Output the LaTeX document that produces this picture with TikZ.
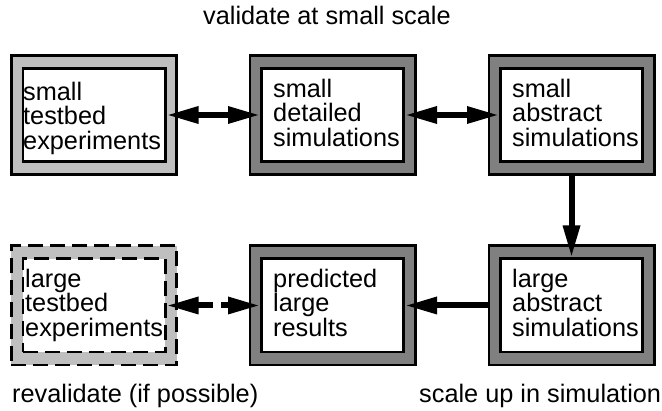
\documentclass[tikz,border=0pt]{standalone}
\usepackage{fontspec}
\setmainfont{Liberation Sans}
\usetikzlibrary{arrows.meta}
\definecolor{lightframe}{gray}{0.75}
\definecolor{darkframe}{gray}{0.5}
\begin{document}
\begin{tikzpicture}[x=1pt,y=-1pt,
  frame/.style={draw=black, line width=2.7pt, minimum width=165.3pt, minimum height=119.3pt, inner sep=0pt},
  inbox/.style={draw=black, fill=white, line width=2.7pt, minimum width=142.3pt, minimum height=93.3pt, inner sep=0pt},
  dashedline/.style={dash pattern=on 15pt off 7pt},
  txt/.style={anchor=north west, inner sep=0pt, align=left, font=\fontsize{25.3pt}{24.5pt}\selectfont},
  lbl/.style={anchor=base west, inner sep=0pt, font=\fontsize{25.3pt}{24.5pt}\selectfont},
  tip/.tip={Triangle[length=32pt,width=16pt]},
  conn/.style={line width=6pt},
]
\useasboundingbox (0,0) rectangle (662,411);
% frames
\node[frame, fill=lightframe] (f1) at (94,115) {};
\node[frame, fill=darkframe] (f2) at (332.5,115) {};
\node[frame, fill=darkframe] (f3) at (571.5,115) {};
\node[frame, fill=lightframe, dashedline] (f4) at (94,305.5) {};
\node[frame, fill=darkframe] (f5) at (332.5,305.5) {};
\node[frame, fill=darkframe] (f6) at (571.5,305.5) {};
% inner boxes
\node[inbox] (i1) at (f1) {};
\node[inbox] (i2) at (f2) {};
\node[inbox] (i3) at (f3) {};
\node[inbox, dashedline] (i4) at (f4) {};
\node[inbox] (i5) at (f5) {};
\node[inbox] (i6) at (f6) {};
% texts
\node[txt] (t1) at (23,81.9) {small\\testbed\\experiments};
\node[txt] (t2) at (273,78.9) {small\\detailed\\simulations};
\node[txt] (t3) at (512,78.9) {small\\abstract\\simulations};
\node[txt] (t4) at (25,268.9) {large\\testbed\\experiments};
\node[txt] (t5) at (273,268.9) {predicted\\large\\results};
\node[txt] (t6) at (512,268.9) {large\\abstract\\simulations};
% labels
\node[lbl] (l1) at (203,25) {validate at small scale};
\node[lbl] (l2) at (12,403) {revalidate (if possible)};
\node[lbl] (l3) at (419,403) {scale up in simulation};
% connectors
\draw[conn, tip-tip] (i1.east) -- (i2.west);
\draw[conn, tip-tip] (i2.east) -- (i3.west);
\draw[conn, -tip] (f3.south) -- (i6.north);
\draw[conn, -tip] (f6.west) -- (i5.east);
\draw[conn, tip-tip, dash pattern=on 16pt off 8pt] (i4.east) -- (i5.west);
\end{tikzpicture}
\end{document}
